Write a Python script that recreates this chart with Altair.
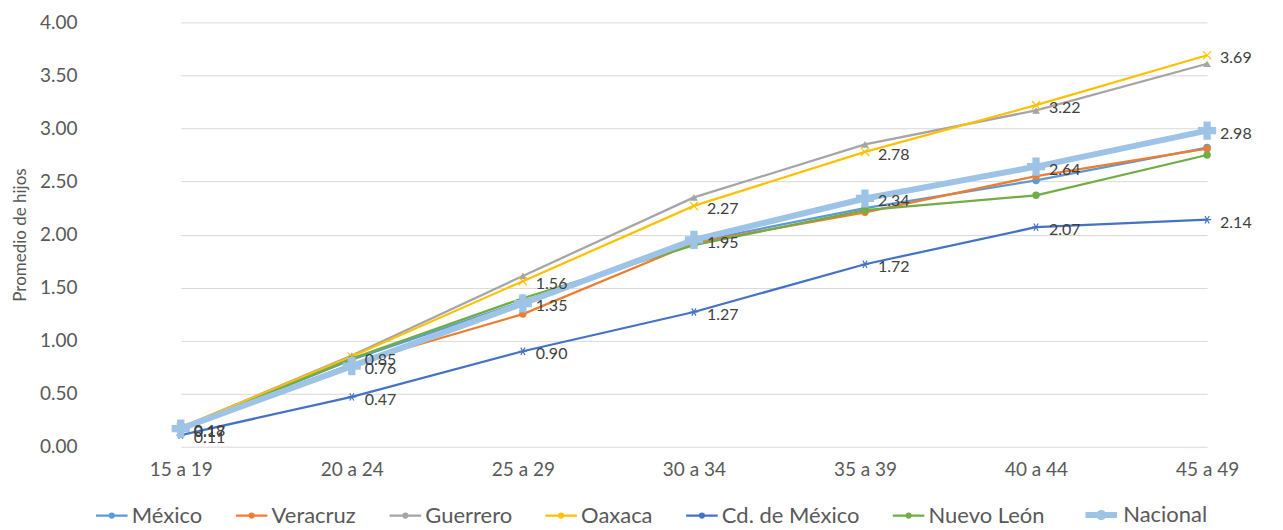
import altair as alt
import pandas as pd

grupos = ["15 a 19", "20 a 24", "25 a 29", "30 a 34", "35 a 39", "40 a 44", "45 a 49"]
series = ["México", "Veracruz", "Guerrero", "Oaxaca", "Cd. de México", "Nuevo León", "Nacional"]

mexico = [0.17, 0.82, 1.37, 1.93, 2.25, 2.51, 2.82]
veracruz = [0.17, 0.78, 1.25, 1.92, 2.21, 2.55, 2.81]
guerrero = [0.18, 0.86, 1.61, 2.35, 2.85, 3.17, 3.61]
oaxaca = [0.18, 0.85, 1.56, 2.27, 2.78, 3.22, 3.69]
cdmx = [0.11, 0.47, 0.90, 1.27, 1.72, 2.07, 2.14]
nuevo_leon = [0.16, 0.83, 1.40, 1.90, 2.23, 2.37, 2.75]
nacional = [0.17, 0.76, 1.35, 1.95, 2.34, 2.64, 2.98]

colores = ["#5B9BD5", "#ED7D31", "#A5A5A5", "#FFC000", "#4472C4", "#70AD47", "#9DC3E6"]
grosores = [2.25, 2.25, 2.25, 2.25, 2.25, 2.25, 6]
X_PATH = "M-1,-1L1,1M-1,1L1,-1"
AST_PATH = "M-1,0L1,0M-0.5,-0.87L0.5,0.87M-0.5,0.87L0.5,-0.87"
formas = ["circle", "circle", "triangle-up", X_PATH, AST_PATH, "circle", "cross"]
tamanos = [55, 55, 60, 70, 70, 55, 330]
rellenos = [True, True, True, False, False, True, True]
etiquetadas = ["Oaxaca", "Cd. de México", "Nacional"]

valores = [mexico, veracruz, guerrero, oaxaca, cdmx, nuevo_leon, nacional]
rows = []
for i, (s, vals) in enumerate(zip(series, valores)):
    for g, v in zip(grupos, vals):
        rows.append({"grupo": g, "serie": s, "valor": v, "hex": colores[i],
                     "forma": formas[i], "tam": tamanos[i], "relleno": rellenos[i]})
df = pd.DataFrame(rows)

FONT = "Lato"
LEG_SYMBOL = ("M-1,0L1,0M-0.13,0a0.13,0.13 0 1,0 0.26,0"
              "a0.13,0.13 0 1,0 -0.26,0")

x = alt.X("grupo:N", sort=grupos, title=None,
          scale=alt.Scale(type="point", range=[84, 1112], padding=0),
          axis=alt.Axis(labelAngle=0, labelFontSize=19, labelColor="#595959",
                        labelPadding=14, domain=False, ticks=False, grid=False))
y = alt.Y("valor:Q", title="Promedio de hijos",
          scale=alt.Scale(domain=[0, 4], nice=False),
          axis=alt.Axis(values=[0, 0.5, 1, 1.5, 2, 2.5, 3, 3.5, 4], format=".2f",
                        labelFontSize=19, labelColor="#595959", labelPadding=20,
                        domain=False, ticks=False, gridColor="#D9D9D9", gridWidth=1,
                        titleFontSize=17, titleFontWeight="normal", titleColor="#595959",
                        titlePadding=10))
leg = dict(orient="none", legendX=-2, legendY=474, direction="horizontal",
           symbolType=LEG_SYMBOL, symbolSize=1000, labelFontSize=22,
           labelColor="#595959", columnPadding=28, labelOffset=3,
           labelFont=FONT, title=None)
color = alt.Color("serie:N", sort=series, title=None,
                  scale=alt.Scale(domain=series, range=colores),
                  legend=alt.Legend(**leg))
sw = alt.StrokeWidth("serie:N", sort=series, title=None,
                     scale=alt.Scale(type="ordinal", domain=series, range=grosores),
                     legend=alt.Legend(**leg))

base = alt.Chart(df)
otras = base.transform_filter(alt.datum.serie != "Nacional")
nac = base.transform_filter(alt.datum.serie == "Nacional")

shape = alt.Shape("forma:N", scale=None)
size = alt.Size("tam:Q", scale=None)

lineas = otras.mark_line().encode(x=x, y=y, color=color, strokeWidth=sw)
puntos_llenos = otras.transform_filter("datum.relleno").mark_point(
    filled=True, opacity=1).encode(
    x=x, y=y, fill=alt.Fill("hex:N", scale=None), shape=shape, size=size)
puntos_trazo = otras.transform_filter("!datum.relleno").mark_point(
    filled=False, opacity=1, strokeWidth=1.2).encode(
    x=x, y=y, stroke=alt.Stroke("hex:N", scale=None), shape=shape, size=size)
linea_nac = nac.mark_line().encode(x=x, y=y, color=color, strokeWidth=sw)
puntos_nac = nac.mark_point(filled=True, opacity=1).encode(
    x=x, y=y, fill=alt.Fill("hex:N", scale=None), shape=shape, size=size)
etiquetas = base.transform_filter(
    alt.FieldOneOfPredicate(field="serie", oneOf=etiquetadas)
).mark_text(align="left", baseline="middle", dx=13, dy=3, fontSize=16,
            color="#404040", font=FONT).encode(
    x=x, y=y, text=alt.Text("valor:Q", format=".2f"))

chart = alt.layer(lineas, puntos_llenos, puntos_trazo, linea_nac, puntos_nac, etiquetas).properties(
    width=1180, height=425,
    autosize=alt.AutoSizeParams(type="none"),
    padding={"left": 89, "top": 14, "right": 0, "bottom": 80},
).configure(font=FONT).configure_view(stroke=None)

chart.save("out.html", embed_options={"renderer": "svg", "actions": False})
